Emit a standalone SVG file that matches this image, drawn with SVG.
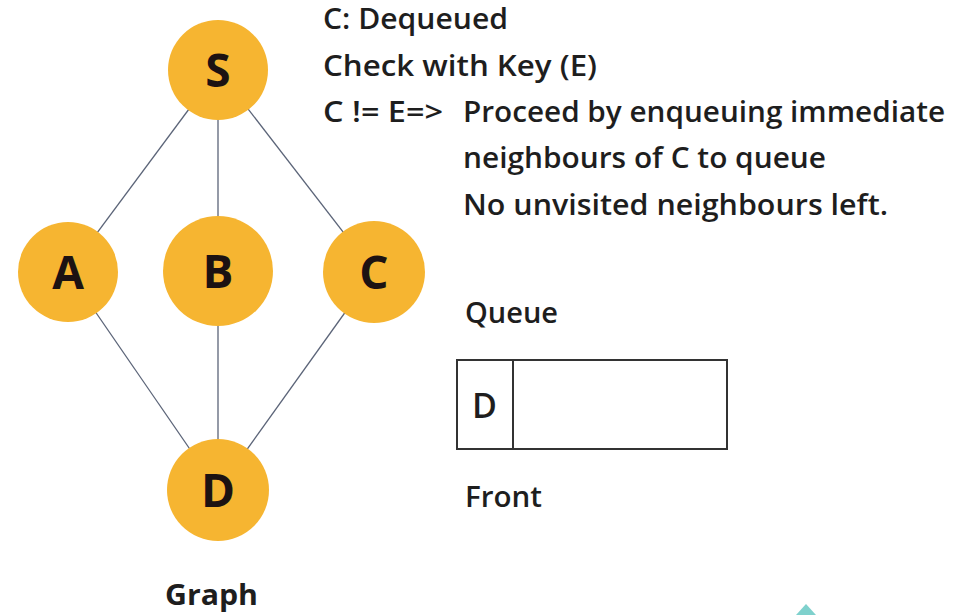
<svg xmlns="http://www.w3.org/2000/svg" width="956" height="615" viewBox="0 0 956 615">
<style>
.node circle{fill:#F6B531}
.node text{font-family:"Open Sans","Liberation Sans",sans-serif;font-weight:700;font-size:46px;fill:#1c1212;text-anchor:middle}
.edge{stroke:#5b6478;stroke-width:1.3;fill:none}
.t{font-family:"Open Sans","Liberation Sans",sans-serif;font-weight:600;font-size:28.5px;fill:#1e1e1e}
.box{fill:#fff;stroke:#333;stroke-width:2}
</style>
<rect width="956" height="615" fill="#fff"/>
<g id="connectors">
<line class="edge" x1="218" y1="70" x2="68" y2="272"/>
<line class="edge" x1="218" y1="70" x2="218" y2="271"/>
<line class="edge" x1="218" y1="70" x2="374" y2="272"/>
<line class="edge" x1="68" y1="272" x2="218" y2="490"/>
<line class="edge" x1="218" y1="271" x2="218" y2="490"/>
<line class="edge" x1="374" y1="272" x2="218" y2="490"/>
</g>
<g id="node-S" class="node"><circle cx="218" cy="70" r="50"/><text x="218" y="87">S</text></g>
<g id="node-A" class="node"><circle cx="68" cy="272" r="50"/><text x="68" y="289">A</text></g>
<g id="node-B" class="node"><circle cx="218" cy="271" r="55"/><text x="218" y="288">B</text></g>
<g id="node-C" class="node"><circle cx="374" cy="272" r="51"/><text x="374" y="289">C</text></g>
<g id="node-D" class="node"><circle cx="218" cy="490" r="51"/><text x="218" y="507">D</text></g>
<text class="t" x="165" y="605" style="font-weight:700" textLength="93" lengthAdjust="spacingAndGlyphs">Graph</text>
<g id="description">
<text class="t" x="323" y="29" textLength="185" lengthAdjust="spacingAndGlyphs">C: Dequeued</text>
<text class="t" x="323" y="76" textLength="274" lengthAdjust="spacingAndGlyphs">Check with Key (E)</text>
<text class="t" x="323" y="122" textLength="120" lengthAdjust="spacingAndGlyphs">C != E=&gt;</text>
<text class="t" x="463" y="122" textLength="482" lengthAdjust="spacingAndGlyphs">Proceed by enqueuing immediate</text>
<text class="t" x="463" y="168" textLength="363" lengthAdjust="spacingAndGlyphs">neighbours of C to queue</text>
<text class="t" x="463" y="215" textLength="425" lengthAdjust="spacingAndGlyphs">No unvisited neighbours left.</text>
</g>
<g id="queue">
<text class="t" x="465" y="323" textLength="93" lengthAdjust="spacingAndGlyphs">Queue</text>
<rect class="box" x="457" y="360" width="270" height="89"/>
<line x1="513" y1="360" x2="513" y2="449" stroke="#333" stroke-width="2"/>
<text class="t" x="472" y="418" style="font-size:34px">D</text>
<text class="t" x="465" y="507" textLength="77" lengthAdjust="spacingAndGlyphs">Front</text>
</g>
<polygon points="796,615 806,604 816,615" fill="#5fc6c0" opacity="0.8"/>
</svg>
